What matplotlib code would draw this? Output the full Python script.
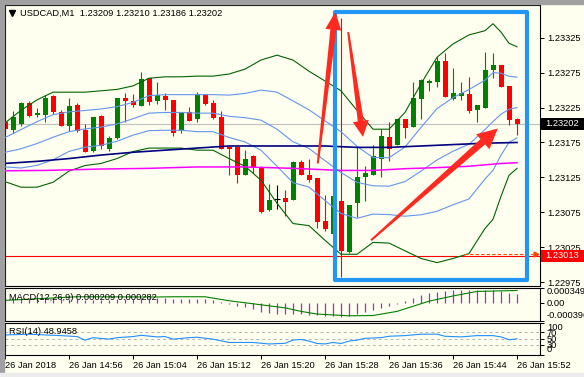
import numpy as np
import matplotlib
matplotlib.use("Agg")
import matplotlib.pyplot as plt
from matplotlib.patches import Polygon, Rectangle

plt.rcParams["font.family"] = ["Liberation Sans", "DejaVu Sans"]
plt.rcParams["font.size"] = 6.7

# USDCAD M1, 26 Jan 2018, one bar per minute from 14:48 to 15:52
opens = [1.23204, 1.23193, 1.23201, 1.23232, 1.23215, 1.23214, 1.23242, 1.23218, 1.23199, 1.23228,
         1.23193, 1.23163, 1.23213, 1.23166, 1.23181, 1.23238, 1.23235, 1.23227, 1.23268, 1.23234,
         1.23242, 1.23236, 1.23191, 1.23218, 1.23208, 1.23244, 1.23232, 1.23211, 1.23168, 1.23168,
         1.23129, 1.23155, 1.23140, 1.23079, 1.23094, 1.23096, 1.23092, 1.23147, 1.23129, 1.23124,
         1.23062, 1.23044, 1.23091, 1.23018, 1.23088, 1.23126, 1.23129, 1.23152, 1.23183, 1.23172,
         1.23208, 1.23197, 1.23237, 1.23260, 1.23262, 1.23291, 1.23237, 1.23242, 1.23245, 1.23221,
         1.23225, 1.23279, 1.23286, 1.23256, 1.23209]
highs = [1.23207, 1.23220, 1.23233, 1.23234, 1.23224, 1.23243, 1.23243, 1.23221, 1.23238, 1.23232,
         1.23201, 1.23211, 1.23214, 1.23184, 1.23239, 1.23246, 1.23244, 1.23276, 1.23268, 1.23262,
         1.23246, 1.23236, 1.23218, 1.23226, 1.23247, 1.23244, 1.23236, 1.23220, 1.23168, 1.23169,
         1.23164, 1.23157, 1.23142, 1.23115, 1.23114, 1.23107, 1.23148, 1.23150, 1.23151, 1.23124,
         1.23100, 1.23104, 1.23353, 1.23086, 1.23169, 1.23142, 1.23172, 1.23194, 1.23204, 1.23209,
         1.23208, 1.23262, 1.23266, 1.23266, 1.23298, 1.23303, 1.23282, 1.23262, 1.23269, 1.23229,
         1.23305, 1.23303, 1.23286, 1.23256, 1.23210]
lows = [1.23190, 1.23188, 1.23199, 1.23212, 1.23212, 1.23204, 1.23216, 1.23199, 1.23191, 1.23190,
        1.23161, 1.23161, 1.23166, 1.23163, 1.23180, 1.23204, 1.23226, 1.23227, 1.23228, 1.23230,
        1.23221, 1.23185, 1.23188, 1.23206, 1.23204, 1.23228, 1.23208, 1.23165, 1.23128, 1.23117,
        1.23129, 1.23132, 1.23074, 1.23077, 1.23080, 1.23070, 1.23092, 1.23128, 1.23119, 1.23052,
        1.23048, 1.23043, 1.22982, 1.23017, 1.23068, 1.23091, 1.23129, 1.23126, 1.23149, 1.23171,
        1.23182, 1.23197, 1.23209, 1.23248, 1.23255, 1.23240, 1.23236, 1.23236, 1.23217, 1.23204,
        1.23225, 1.23267, 1.23255, 1.23200, 1.23186]
closes = [1.23194, 1.23212, 1.23232, 1.23213, 1.23217, 1.23238, 1.23218, 1.23199, 1.23227, 1.23191,
          1.23161, 1.23211, 1.23170, 1.23182, 1.23239, 1.23235, 1.23229, 1.23266, 1.23233, 1.23243,
          1.23236, 1.23189, 1.23218, 1.23206, 1.23245, 1.23230, 1.23210, 1.23166, 1.23165, 1.23128,
          1.23152, 1.23139, 1.23076, 1.23092, 1.23094, 1.23090, 1.23147, 1.23129, 1.23121, 1.23061,
          1.23051, 1.23099, 1.23020, 1.23086, 1.23125, 1.23131, 1.23155, 1.23185, 1.23165, 1.23209,
          1.23196, 1.23239, 1.23264, 1.23263, 1.23291, 1.23240, 1.23246, 1.23246, 1.23220, 1.23229,
          1.23279, 1.23286, 1.23255, 1.23207, 1.23202]

# bollinger bands (bar index -> price)
band_idx = [0, 2, 4, 6, 8, 10, 12, 14, 16, 18, 20, 22, 24, 26, 28, 30, 32, 34, 36, 38,
            40, 42, 44, 46, 48, 50, 52, 54, 56, 58, 60, 61, 62, 63, 64]
outer_up = [1.23203, 1.23221, 1.23236, 1.23247, 1.23247, 1.23247, 1.23249, 1.23251, 1.23256, 1.23267,
            1.23269, 1.23269, 1.23270, 1.23270, 1.23273, 1.23280, 1.23293, 1.23300, 1.23293, 1.23277,
            1.23263, 1.23249, 1.23221, 1.23194, 1.23194, 1.23218, 1.23259, 1.23297, 1.23316, 1.23329,
            1.23335, 1.23345, 1.23333, 1.23317, 1.23312]
outer_lo = [1.23119, 1.23111, 1.23111, 1.23118, 1.23134, 1.23142, 1.23145, 1.23152, 1.23162, 1.23167,
            1.23167, 1.23167, 1.23164, 1.23164, 1.23152, 1.23141, 1.23121, 1.23088, 1.23059, 1.23056,
            1.23035, 1.23015, 1.23015, 1.23032, 1.23031, 1.23020, 1.23009, 1.23003, 1.23009, 1.23016,
            1.23052, 1.23065, 1.23098, 1.23128, 1.23138]
band_mid = [1.23161, 1.23166, 1.231735, 1.231825, 1.231905, 1.231945, 1.23197, 1.232015, 1.23209, 1.23217,
            1.23218, 1.23218, 1.23217, 1.23217, 1.232125, 1.232105, 1.23207, 1.23194, 1.23176, 1.231665,
            1.23149, 1.23132, 1.23118, 1.23113, 1.231125, 1.23119, 1.23134, 1.2315, 1.231625, 1.231725,
            1.231935, 1.23205, 1.232155, 1.232225, 1.23225]
inner_up = [1.23182, 1.231935, 1.232048, 1.232148, 1.232188, 1.232208, 1.23223, 1.232262, 1.232325, 1.23242,
            1.232435, 1.232435, 1.232435, 1.232435, 1.232428, 1.232452, 1.2325, 1.23247, 1.232345, 1.232218,
            1.23206, 1.231905, 1.231695, 1.231535, 1.231532, 1.231685, 1.231965, 1.232235, 1.232392, 1.232508,
            1.232642, 1.23275, 1.232742, 1.232698, 1.232685]
inner_lo = [1.2314, 1.231385, 1.231422, 1.231502, 1.231622, 1.231682, 1.23171, 1.231768, 1.231855, 1.23192,
            1.231925, 1.231925, 1.231905, 1.231905, 1.231822, 1.231758, 1.23164, 1.23141, 1.231175, 1.231112,
            1.23092, 1.230735, 1.230665, 1.230725, 1.230718, 1.230695, 1.230715, 1.230765, 1.230858, 1.230942,
            1.231228, 1.23135, 1.231568, 1.231752, 1.231815]

# moving averages
navy_idx = [0, 4, 8, 12, 16, 20, 24, 28, 32, 36, 40, 44, 48, 52, 56, 60, 64]
navy_ma = [1.23145, 1.23148, 1.23152, 1.23157, 1.23161, 1.23164, 1.23167, 1.23170, 1.23170, 1.23170,
           1.23170, 1.23168, 1.23168, 1.23170, 1.23172, 1.23174, 1.23175]
pink_idx = [0, 5, 12, 18, 24, 30, 36, 42, 46, 50, 54, 58, 60, 62, 64]
pink_ma = [1.231345, 1.23135, 1.23137, 1.23138, 1.23140, 1.23140, 1.23138, 1.23135, 1.23135, 1.231375,
           1.23139, 1.23141, 1.23143, 1.23145, 1.23146]

bid = 1.23202
level = 1.23013
level_arrow = 1.23016

# MACD(12,26,9)
macd_hist = [0.000093, 0.000093, 0.000093, 0.000093, 0.000093, 0.000093, 0.000093, 0.000093, 0.000093, 0.000093,
             0.000070, 0.000070, 0.000058, 0.000058, 0.000082, 0.000093, 0.000093, 0.000117, 0.000117, 0.000117,
             0.000117, 0.000093, 0.000082, 0.000082, 0.000093, 0.000093, 0.000070, 0.000023, -0.000023, -0.000070,
             -0.000093, -0.000128, -0.000198, -0.000233, -0.000256, -0.000256, -0.000256, -0.000256, -0.000268, -0.000280,
             -0.000291, -0.000303, -0.000315, -0.000303, -0.000256, -0.000210, -0.000156, -0.000117, -0.000077, -0.000023,
             0.000040, 0.000117, 0.000179, 0.000217, 0.000256, 0.000280, 0.000291, 0.000291, 0.000291, 0.000291,
             0.000291, 0.000303, 0.000268, 0.000233, 0.000209]
signal_idx = [0, 9, 19, 21, 25, 28, 35, 37, 39, 43, 46, 49, 53, 56, 59, 64]
macd_signal = [0.000058, 0.000140, 0.000135, 0.000140, 0.000140, 0.000050, -0.000110, -0.000190, -0.000250, -0.000290,
               -0.000284, -0.000190, 0.000040, 0.000158, 0.000260, 0.000282]

# RSI(14)
rsi_idx = [0, 3, 7, 9, 10, 11, 13, 14, 16, 17, 19, 20, 21, 23, 24, 26, 28, 31, 33, 35,
           36, 37, 38, 39, 40, 41, 42, 43, 44, 45, 47, 48, 50, 52, 54, 55, 57, 59, 61, 62, 63, 64]
rsi_vals = [61, 63.5, 59, 56, 45, 52.6, 48, 52.6, 56, 60, 55, 56, 48, 52.6, 54, 48, 37.6, 37.6, 33, 35,
            45, 47, 42, 34.4, 33, 37.6, 34.4, 42, 45, 50.5, 52.6, 57, 59, 63.5, 63.5, 57, 55, 59, 59, 55, 46, 48.9458]

price_ticks = [1.23325, 1.23275, 1.23225, 1.23175, 1.23125, 1.23075, 1.23025, 1.22975]
time_ticks = [0, 8, 16, 24, 32, 40, 48, 56, 64]
time_labels = ["26 Jan 2018", "26 Jan 14:56", "26 Jan 15:04", "26 Jan 15:12", "26 Jan 15:20",
               "26 Jan 15:28", "26 Jan 15:36", "26 Jan 15:44", "26 Jan 15:52"]

W, H = 584, 377
BG = "#FFFFF0"
fig = plt.figure(figsize=(W / 100, H / 100), dpi=100, facecolor=BG)


def px_axes(x0, y0, x1, y1):
    a = fig.add_axes([x0 / W, 1 - y1 / H, (x1 - x0) / W, (y1 - y0) / H])
    a.set_facecolor(BG)
    for s in a.spines.values():
        s.set_linewidth(0.8)
    return a


ax = px_axes(5, 5, 540, 285.5)
ax_macd = px_axes(5, 287.5, 540, 320.5)
ax_rsi = px_axes(5, 322.5, 540, 354.5)

n = len(opens)
xs = np.arange(n)
for a in (ax, ax_macd, ax_rsi):
    a.set_xlim(0, 66.875)

# main chart
ax.set_ylim(1.229703, 1.233718)
ax.axhline(bid, color="#C0C0C0", lw=0.8, zorder=1)
ax.axhline(level, color="#FF0000", lw=0.8, zorder=1)

for i in range(n):
    o, h, l, c = opens[i], highs[i], lows[i], closes[i]
    if c > o:
        col = "#008000"
    elif c < o:
        col = "#FF0000"
    else:
        col = "black"
    ax.vlines(i, l, h, color=col, lw=0.8, zorder=2)
    if c == o:
        ax.hlines(o, i - 0.32, i + 0.32, color=col, lw=0.8, zorder=2)
    else:
        ax.bar(i, abs(c - o), bottom=min(o, c), width=0.625, color=col, lw=0, zorder=2)

ax.plot(band_idx, outer_up, color="#006400", lw=0.8, zorder=3)
ax.plot(band_idx, outer_lo, color="#006400", lw=0.8, zorder=3)
ax.plot(band_idx, inner_up, color="#6495ED", lw=0.8, zorder=3)
ax.plot(band_idx, band_mid, color="#6495ED", lw=0.8, zorder=3)
ax.plot(band_idx, inner_lo, color="#6495ED", lw=0.8, zorder=3)
ax.plot(navy_idx, navy_ma, color="#000080", lw=1.2, zorder=3)
ax.plot(pink_idx, pink_ma, color="#FF00FF", lw=1.1, zorder=3)

ax.plot([57.4, 66.0], [level_arrow, level_arrow], color="#FF4500", lw=0.8, ls=(0, (3, 2)), zorder=4)
ax.plot([66.4], [level_arrow], marker=">", ms=3.5, color="#FF4500", clip_on=False, zorder=4)

ax.set_xticks([])
ax.yaxis.tick_right()
ax.set_yticks(price_ticks)
ax.set_yticklabels(["%.5f" % p for p in price_ticks])
ax.tick_params(axis="y", direction="out", length=3, width=0.7, pad=2, labelsize=6.7)

# MACD panel
ax_macd.set_ylim(-0.000396, 0.000349)
ax_macd.vlines(xs, 0, macd_hist, color="#9932CC", lw=0.9)
ax_macd.plot(signal_idx, macd_signal, color="#008000", lw=0.8)
ax_macd.set_xticks([])
ax_macd.yaxis.tick_right()
ax_macd.set_yticks([0.000349, 0.0, -0.000396])
ax_macd.set_yticklabels(["0.000349", "0.00", "-0.000396"])
ax_macd.tick_params(axis="y", direction="out", length=3, width=0.7, pad=2, labelsize=6.7)
ml = ax_macd.get_yticklabels()
ml[0].set_va("top")
ml[2].set_va("bottom")

# RSI panel
ax_rsi.set_ylim(0, 100)
for lv in (70, 50, 30):
    ax_rsi.axhline(lv, color="#B4B4B4", lw=0.7, ls=(0, (3, 3)))
ax_rsi.plot(rsi_idx, rsi_vals, color="#1E90FF", lw=0.8)
ax_rsi.yaxis.tick_right()
ax_rsi.set_yticks([100, 70, 50, 30, 0])
ax_rsi.set_yticklabels(["100", "70", "50", "30", "0"])
ax_rsi.tick_params(axis="y", direction="out", length=3, width=0.7, pad=2, labelsize=6.7)
rl = ax_rsi.get_yticklabels()
rl[0].set_va("top")
rl[4].set_va("bottom")
ax_rsi.set_xticks(time_ticks)
ax_rsi.set_xticklabels(time_labels, ha="left")
ax_rsi.tick_params(axis="x", direction="out", length=3, width=0.7, pad=1.5, labelsize=6.7)

# labels
fig.text(20 / W, 1 - 13 / H, "USDCAD,M1  1.23209 1.23210 1.23186 1.23202", va="center", ha="left")
ax.plot([0.0125], [0.971], marker="v", ms=4.2, color="black", transform=ax.transAxes)
fig.text(9 / W, 1 - 297 / H, "MACD(12,26,9) 0.000209 0.000282", va="center", ha="left")
fig.text(9 / W, 1 - 331.5 / H, "RSI(14) 48.9458", va="center", ha="left")


def price_tag(price, text, face):
    yd = ax.transData.transform((0, price))[1]
    fig.add_artist(Rectangle((541 / W, (yd - 6) / H), 43 / W, 12 / H, transform=fig.transFigure,
                             facecolor=face, edgecolor="none", zorder=4))
    fig.text(545 / W, yd / H, text, color="white", va="center", ha="left", zorder=5)


price_tag(bid, "1.23202", "black")
price_tag(level, "1.23013", "#FF0000")


def to_px(pt):
    return ax.transData.transform(pt)


# blue highlight box
b0 = to_px((41.3, 1.22978))
b1 = to_px((65.25, 1.23362))
fig.add_artist(Rectangle((b0[0] / W, b0[1] / H), (b1[0] - b0[0]) / W, (b1[1] - b0[1]) / H,
                         transform=fig.transFigure, fill=False, edgecolor="#2196F3", lw=3,
                         joinstyle="round", zorder=6))


def big_arrow(tail, tip, head_len, head_half, w0, w1):
    p0 = to_px(tail)
    p1 = to_px(tip)
    d = p1 - p0
    u = d / np.hypot(*d)
    nv = np.array([-u[1], u[0]])
    base = p1 - u * head_len
    pts = np.array([p0 + nv * w0, base + nv * w1, base + nv * head_half, p1,
                    base - nv * head_half, base - nv * w1, p0 - nv * w0]) / [W, H]
    fig.add_artist(Polygon(pts, closed=True, transform=fig.transFigure,
                           facecolor="#FF2A1F", edgecolor="none", zorder=7))


big_arrow((39.1, 1.23145), (41.3, 1.23362), 18, 8, 1, 3)
big_arrow((42.9, 1.23333), (44.75, 1.23183), 16, 8, 1, 3)
big_arrow((45.75, 1.23035), (61.6, 1.23195), 20, 10, 1, 3.5)

# window frame
fig.add_artist(Rectangle((0, 0), 3.5 / W, 1, transform=fig.transFigure, color="#A0A0A0", zorder=8))
fig.add_artist(Rectangle((0, 1 - 3.5 / H), 1, 3.5 / H, transform=fig.transFigure, color="#A0A0A0", zorder=8))
fig.add_artist(Rectangle((0, 0), 1, 4 / H, transform=fig.transFigure, color="#ECECEC", zorder=8))

fig.savefig("out.png", dpi=100, facecolor=BG)
